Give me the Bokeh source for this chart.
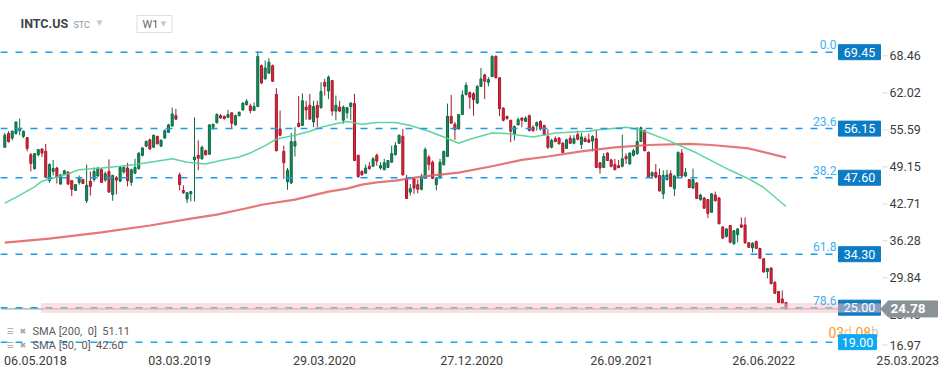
from bokeh.plotting import figure
from bokeh.models import (Range1d, FixedTicker, Label, BoxAnnotation, ColumnDataSource)
from bokeh.core.properties import value
from bokeh.embed import file_html
from bokeh.resources import INLINE

# ---------------- data ----------------
opens = [52.9, 55.3, 54.5, 55.3, 55.8, 54.8, 54.6, 51.6, 49.2, 51.6, 52.6, 52.2, 47.1, 48.7, 49.3, 46.5, 48.2, 48.6, 47.1, 45.4,
         46.8, 47.3, 43.6, 47.0, 47.3, 47.9, 49.0, 47.2, 48.7, 44.7, 47.6, 47.0, 48.6, 49.3, 46.8, 48.4, 49.2, 51.5, 53.1, 54.2,
         52.9, 54.8, 53.1, 54.5, 55.5, 56.6, 58.4, 48.1, 45.4, 43.9, 44.8, 50.7, 51.5, 50.9, 52.3, 51.7, 56.4, 57.2, 58.4, 58.3,
         58.1, 58.9, 56.8, 58.4, 59.4, 60.3, 60.1, 59.3, 60.0, 67.1, 64.8, 65.8, 67.1, 62.1, 56.1, 52.2, 46.9, 46.7, 53.1, 57.1,
         56.7, 59.9, 60.2, 57.3, 60.2, 59.8, 64.2, 62.7, 64.5, 59.2, 59.9, 57.6, 58.9, 60.0, 60.5, 51.5, 48.7, 48.4, 49.6, 49.6,
         51.5, 49.3, 49.0, 49.4, 50.3, 51.6, 53.6, 54.8, 47.5, 45.1, 47.5, 46.4, 45.6, 47.5, 51.2, 50.3, 46.4, 47.6, 49.9, 51.3,
         58.3, 56.9, 56.1, 58.6, 62.1, 62.4, 62.2, 60.6, 63.5, 65.5, 64.2, 65.2, 68.7, 65.0, 59.7, 58.3, 57.6, 55.2, 56.8, 58.0,
         57.4, 58.4, 56.4, 56.6, 57.4, 56.7, 54.8, 52.9, 54.4, 54.5, 53.6, 52.7, 54.5, 53.6, 55.1, 53.4, 54.4, 54.2, 54.0, 54.4,
         50.2, 49.4, 51.9, 50.7, 49.9, 49.7, 49.6, 51.3, 50.0, 51.5, 51.8, 53.9, 55.8, 52.0, 47.9, 48.5, 48.0, 44.8, 47.3, 48.3,
         45.7, 47.9, 51.9, 47.9, 47.3, 45.8, 46.7, 43.8, 44.1, 43.8, 41.6, 44.6, 44.1, 39.0, 37.4, 39.3, 36.1, 37.7, 39.4, 39.4,
         36.3, 35.4, 36.5, 35.3, 33.5, 31.3, 31.9, 29.4, 27.8, 26.5, 25.9]
highs = [55.4, 55.7, 55.8, 57.4, 57.9, 55.8, 54.6, 51.9, 51.9, 52.6, 52.7, 53.5, 50.1, 50.7, 49.5, 48.3, 49.0, 48.7, 47.2, 46.5,
         48.0, 47.4, 49.9, 48.7, 49.4, 49.4, 49.3, 48.7, 50.8, 48.1, 47.9, 49.5, 49.6, 50.2, 49.2, 50.9, 52.0, 52.9, 54.1, 54.4,
         55.1, 54.9, 54.3, 56.0, 57.0, 59.8, 59.6, 48.5, 46.3, 45.1, 45.3, 58.1, 54.1, 53.2, 52.5, 56.9, 57.0, 58.8, 58.7, 58.4,
         59.4, 59.0, 58.6, 59.1, 60.7, 61.3, 60.5, 60.7, 69.6, 67.3, 68.0, 68.4, 67.3, 63.2, 59.3, 53.2, 49.3, 55.4, 56.4, 61.8,
         62.3, 61.0, 62.2, 61.0, 61.0, 64.2, 64.8, 65.4, 64.6, 61.9, 61.0, 60.2, 59.9, 60.7, 62.2, 51.6, 48.9, 49.9, 50.3, 51.2,
         51.8, 50.3, 50.9, 50.7, 53.2, 53.8, 55.1, 56.1, 48.1, 46.5, 47.7, 47.3, 48.3, 52.9, 51.6, 50.6, 47.7, 50.9, 52.3, 60.5,
         62.0, 57.3, 58.7, 62.8, 64.2, 62.6, 62.5, 63.7, 66.7, 65.7, 65.1, 68.9, 68.9, 65.1, 59.9, 58.3, 57.7, 56.7, 58.1, 58.1,
         58.3, 58.6, 56.7, 57.4, 57.6, 56.8, 56.0, 54.4, 54.8, 54.7, 53.8, 54.4, 55.0, 55.0, 55.8, 55.4, 54.8, 55.3, 55.0, 55.9,
         50.3, 51.9, 52.0, 50.9, 50.9, 50.7, 55.1, 51.8, 52.0, 52.6, 56.4, 56.5, 56.0, 52.2, 48.7, 50.0, 49.2, 48.9, 49.0, 48.9,
         48.1, 52.2, 52.6, 49.3, 47.4, 49.2, 46.8, 44.8, 44.2, 43.9, 44.9, 45.2, 44.2, 39.2, 38.8, 39.4, 38.5, 38.8, 40.7, 40.7,
         36.4, 36.4, 36.7, 35.4, 33.6, 31.9, 32.0, 29.6, 27.9, 28.0, 26.0]
lows = [52.9, 53.7, 54.1, 55.1, 55.0, 54.5, 52.2, 48.7, 49.0, 51.3, 51.2, 47.7, 46.7, 48.0, 46.6, 46.4, 48.1, 46.4, 44.4, 45.3,
        46.4, 46.6, 43.2, 44.5, 46.9, 47.8, 46.8, 46.9, 45.1, 43.6, 44.7, 46.9, 48.3, 46.1, 46.2, 48.3, 49.0, 51.3, 52.9, 52.5,
        52.8, 53.4, 53.0, 54.4, 55.4, 56.5, 57.7, 45.4, 44.8, 43.2, 43.5, 43.5, 48.9, 50.7, 51.5, 51.6, 55.9, 57.0, 57.9, 57.7,
        58.0, 56.1, 56.7, 58.3, 59.3, 60.2, 58.8, 59.2, 59.9, 63.9, 64.7, 65.7, 64.3, 52.2, 54.8, 47.4, 45.5, 46.5, 51.3, 56.4,
        56.6, 57.7, 57.7, 56.4, 56.4, 59.6, 61.9, 61.3, 58.4, 57.6, 59.0, 57.0, 57.9, 57.6, 50.5, 47.6, 48.0, 48.3, 49.0, 49.5,
        49.7, 49.0, 48.9, 49.3, 50.2, 51.5, 53.5, 48.0, 43.9, 44.5, 44.8, 44.9, 45.4, 47.4, 48.9, 47.4, 45.4, 47.4, 49.7, 51.2,
        57.0, 54.2, 56.0, 58.5, 61.9, 59.6, 58.4, 60.4, 63.4, 61.3, 63.5, 65.1, 64.9, 58.3, 57.4, 57.7, 53.8, 54.1, 56.7, 56.4,
        57.3, 55.7, 55.6, 55.8, 55.8, 54.9, 52.6, 52.7, 53.8, 53.4, 51.9, 52.6, 53.5, 53.4, 54.1, 52.6, 53.8, 53.7, 52.2, 49.3,
        48.3, 49.3, 50.5, 49.4, 48.9, 49.3, 49.4, 50.0, 49.9, 51.3, 51.6, 53.8, 52.2, 47.6, 47.4, 47.5, 45.2, 43.9, 47.1, 46.1,
        44.4, 47.7, 47.7, 47.7, 45.8, 45.7, 43.9, 43.6, 42.2, 40.6, 41.5, 43.5, 39.5, 37.0, 37.2, 36.2, 36.0, 36.4, 38.9, 36.1,
        35.4, 34.6, 35.2, 33.5, 31.1, 30.1, 29.0, 27.4, 25.8, 25.8, 24.7]
closes = [55.0, 53.9, 55.7, 57.3, 56.2, 55.7, 52.7, 50.1, 51.8, 52.5, 51.9, 47.7, 49.9, 49.2, 47.7, 48.1, 48.8, 46.5, 45.6, 46.4,
          47.6, 46.6, 46.3, 46.1, 48.7, 49.3, 46.8, 48.3, 45.1, 48.0, 47.2, 49.4, 49.4, 47.1, 49.0, 49.4, 51.9, 52.8, 53.9, 52.6,
          55.0, 53.5, 54.1, 55.8, 56.8, 58.7, 57.8, 46.4, 45.0, 45.0, 45.2, 51.2, 51.0, 52.9, 51.6, 56.8, 56.9, 58.6, 58.0, 57.9,
          58.6, 57.1, 58.4, 59.0, 60.6, 60.9, 59.3, 60.0, 68.7, 64.1, 66.7, 67.7, 64.4, 52.3, 55.0, 50.2, 48.9, 53.9, 53.9, 56.5,
          61.0, 59.4, 57.8, 60.0, 58.1, 62.6, 63.5, 65.1, 59.2, 60.2, 59.2, 59.9, 59.8, 60.6, 50.6, 47.8, 48.1, 49.3, 49.2, 50.9,
          50.5, 49.7, 50.2, 50.6, 51.8, 53.2, 55.0, 48.1, 44.0, 45.7, 45.8, 45.6, 47.8, 52.5, 49.9, 47.5, 47.5, 50.3, 52.2, 58.3,
          57.1, 56.0, 58.6, 62.0, 63.7, 61.6, 61.2, 63.5, 64.8, 64.4, 64.7, 68.7, 65.0, 59.6, 57.6, 57.9, 55.7, 56.5, 57.7, 57.6,
          58.0, 55.8, 55.8, 57.2, 56.1, 55.1, 52.9, 54.1, 53.9, 53.5, 52.0, 54.2, 53.6, 54.4, 54.3, 54.7, 53.9, 53.8, 54.8, 49.4,
          49.3, 51.3, 50.6, 49.6, 49.0, 49.35, 50.9, 50.9, 51.9, 52.3, 53.9, 56.3, 52.3, 47.7, 48.5, 47.7, 45.3, 48.0, 48.1, 46.1,
          47.9, 52.0, 47.9, 48.5, 45.9, 47.3, 44.0, 44.6, 42.3, 41.4, 44.8, 43.6, 39.6, 37.1, 38.7, 36.4, 38.4, 38.7, 39.0, 36.3,
          35.5, 36.2, 35.3, 33.6, 31.2, 31.8, 29.2, 27.5, 25.9, 25.8, 24.78]

sma200_idx = [0, 12, 26, 39, 50, 57, 65, 69, 78, 87, 92, 96, 100, 105, 112, 122, 131, 139, 146, 155, 164, 173, 184, 190, 200, 210]
sma200_val = [36.3, 37.0, 38.1, 39.3, 40.5, 41.2, 42.3, 42.9, 43.8, 45.2, 45.7, 46.4, 46.8, 47.1, 47.8, 48.5, 49.6, 50.7, 51.3,
              52.2, 52.9, 53.3, 53.5, 53.3, 52.7, 51.11]
sma50_idx = [0, 3, 8, 10, 13, 17, 20, 26, 31, 35, 40, 45, 49, 54, 58, 63, 66, 70, 73, 75, 78, 82, 85, 89, 92, 96, 100, 105,
             109, 114, 118, 122, 125, 131, 135, 142, 148, 157, 159, 167, 171, 178, 186, 195, 200, 204, 210]
sma50_val = [43.2, 44.2, 46.0, 47.0, 47.5, 48.3, 49.0, 49.3, 49.6, 49.9, 50.4, 50.9, 50.3, 50.0, 50.6, 51.2, 51.9, 53.2, 54.3,
             54.6, 55.0, 55.7, 56.4, 57.0, 57.4, 56.9, 57.2, 57.2, 56.7, 55.7, 54.7, 53.6, 54.3, 55.4, 55.3, 54.7, 55.4, 55.7,
             55.9, 56.4, 55.9, 54.2, 51.9, 48.9, 47.4, 45.9, 42.6]

fib_levels = [69.45, 56.15, 47.60, 34.30, 25.00]
fib_ratios = ["0.0", "23.6", "38.2", "61.8", "78.6"]
extra_level = 19.00
last_price = 24.78
zone_low, zone_high = 24.2, 25.7

price_ticks = [68.46, 62.02, 55.59, 49.15, 42.71, 36.28, 29.84, 23.40, 16.97]
date_tick_idx = [8.25, 47.0, 85.9, 125.5, 165.8, 204.0, 242.7]
date_labels = ["06.05.2018", "03.03.2019", "29.03.2020", "27.12.2020", "26.09.2021", "26.06.2022", "25.03.2023"]

sma_legend = ["SMA [200,\u00a0 0]\u00a0 51.11", "SMA [50,\u00a0 0]\u00a0 42.60"]
countdown_parts = ["03", "d", "08", "h"]

# ---------------- layout helpers ----------------
W, H = 949, 378
FRAME_H = 352
PLOT_R = 880                    # right edge of the price area (px)
X0PX, XPX = 4.3, 3.72          # first candle pixel, pixels per candle
Y_TOP, Y_BOT = 78.44, 17.20


def xi(px):
    return (px - X0PX) / XPX


def yp(py):
    return Y_TOP - py * (Y_TOP - Y_BOT) / FRAME_H


PX_PRICE = (Y_TOP - Y_BOT) / FRAME_H
FONT = "Roboto"
TXT = "#3c3c3c"

p = figure(width=W, height=H, output_backend="svg", toolbar_location=None,
           x_range=Range1d(xi(0), xi(W)), y_range=Range1d(Y_BOT, Y_TOP),
           y_axis_location=None, min_border_left=0, min_border_top=0,
           min_border_right=0, min_border_bottom=H - FRAME_H)
p.outline_line_color = None
p.background_fill_color = "white"
p.border_fill_color = "white"
p.grid.visible = False

xax = p.xaxis[0]
xax.ticker = FixedTicker(ticks=date_tick_idx)
xax.major_label_overrides = {t: l for t, l in zip(date_tick_idx, date_labels)}
xax.axis_line_color = None
xax.major_tick_in = 0
xax.major_tick_out = 0
xax.minor_tick_line_color = None
xax.major_label_standoff = 3
xax.major_label_text_font = FONT
xax.major_label_text_font_size = "12.5px"
xax.major_label_text_color = TXT

# candles
n = len(opens)
idx = list(range(n))
up = [c >= o for o, c in zip(opens, closes)]
src = ColumnDataSource(dict(
    x=idx, h=highs, l=lows,
    top=[max(o, c) for o, c in zip(opens, closes)],
    bot=[min(o, c) for o, c in zip(opens, closes)],
    fill=["#178a59" if u else "#d8283d" for u in up],
    edge=["#0e6b44" if u else "#a9172a" for u in up],
))
p.segment(x0="x", y0="l", x1="x", y1="h", line_color="edge", line_width=1, source=src)
p.vbar(x="x", width=0.55, top="top", bottom="bot", fill_color="fill", line_color="edge",
       line_width=1, source=src)

# moving averages
p.line(sma200_idx, sma200_val, line_color="#e25f5f", line_width=2.2, line_alpha=0.85)
p.line(sma50_idx, sma50_val, line_color="#4dd095", line_width=1.5, line_alpha=0.9)

# zone + last price line
p.add_layout(BoxAnnotation(left=xi(41), right=xi(PLOT_R), bottom=zone_low, top=zone_high,
                           fill_color="#fbc4c4", fill_alpha=0.5,
                           line_color="#f3a0a0", line_width=1))
p.segment(x0=[xi(0)], x1=[xi(PLOT_R)], y0=[last_price], y1=[last_price],
          line_color="#8c9396", line_width=1)

# countdown (drawn below the 19.00 tag, which partly covers it)
CY = yp(331.5)
p.text(x=[xi(828), xi(843.5), xi(855), xi(870.5)], y=[CY] * 4, text=countdown_parts,
       text_color=["#ff9a1f", "#f7c98f", "#ff9a1f", "#d9c7b3"],
       text_font=value(FONT), text_font_size=value("14px"),
       text_align="left", text_baseline="middle")

DASH_COL = "#1a9de6"
BOX_H = 7.5 * PX_PRICE
p.segment(x0=[xi(0)] * len(fib_levels), x1=[xi(838)] * len(fib_levels), y0=fib_levels, y1=fib_levels,
          line_color=DASH_COL, line_width=1.5, line_dash="7 8")
p.quad(left=xi(838), right=xi(PLOT_R), bottom=[v - BOX_H for v in fib_levels],
       top=[v + BOX_H for v in fib_levels], fill_color="#0b7cc4", line_color="#0b7cc4")
for lvl, r in zip(fib_levels, fib_ratios):
    p.add_layout(Label(x=xi(836), y=lvl, y_offset=3, text=r, text_align="right",
                       text_baseline="bottom", text_font=FONT, text_font_size="12px",
                       text_color="#3fb0f2"))
    p.add_layout(Label(x=xi(859), y=lvl, text=f"{lvl:.2f}", text_align="center",
                       text_baseline="middle", text_font=FONT, text_font_size="12.5px",
                       text_color="white"))

p.segment(x0=[xi(0)], x1=[xi(838)], y0=[extra_level], y1=[extra_level],
          line_color="#17a8f0", line_width=1.5, line_dash="7 8")
p.quad(left=xi(838), right=xi(876), bottom=extra_level - BOX_H, top=extra_level + BOX_H,
       fill_color="#0ea8f3", line_color="#0ea8f3")
p.add_layout(Label(x=xi(857), y=extra_level, text=f"{extra_level:.2f}", text_align="center",
                   text_baseline="middle", text_font=FONT, text_font_size="12.5px",
                   text_color="white"))

# price scale (right side)
tick_y = [t if t != 16.97 else yp(346.5) for t in price_ticks]
p.segment(x0=[xi(882)] * len(price_ticks), x1=[xi(887)] * len(price_ticks),
          y0=[v + 2 * PX_PRICE for v in tick_y], y1=[v + 2 * PX_PRICE for v in tick_y],
          line_color="#d8d8d8", line_width=1)
for t, ty in zip(price_ticks, tick_y):
    p.add_layout(Label(x=xi(889), y=ty, y_offset=2, text=f"{t:.2f}", text_align="left",
                       text_baseline="middle", text_font=FONT, text_font_size="12.5px",
                       text_color=TXT))

# last price tag on the scale
TAG_H = 8 * PX_PRICE
p.quad(left=xi(887.5), right=xi(937), bottom=last_price - TAG_H, top=last_price + TAG_H,
       fill_color="#8a9296", line_color="#8a9296", level="overlay")
p.patch([xi(880), xi(888), xi(888)], [last_price, last_price + TAG_H, last_price - TAG_H],
        fill_color="#8a9296", line_color="#8a9296", level="overlay")
p.add_layout(Label(x=xi(890), y=last_price, text=f"{last_price:.2f}", text_align="left",
                   text_baseline="middle", text_font=FONT, text_font_size="13.5px",
                   text_font_style="bold", text_color="white", level="overlay"))

# header
p.add_layout(Label(x=xi(20), y=yp(23), text="INTC.US", text_align="left", text_baseline="middle",
                   text_font=FONT, text_font_size="12.5px", text_font_style="bold",
                   text_color="#3d4449"))
p.add_layout(Label(x=xi(73), y=yp(24), text="STC", text_align="left", text_baseline="middle",
                   text_font=FONT, text_font_size="9px", text_color="#8b9aa5"))
p.add_layout(Label(x=xi(99), y=yp(22), text="▼", text_align="center", text_baseline="middle",
                   text_font="DejaVu Sans", text_font_size="7px", text_color="#c5c5c5"))
p.quad(left=xi(136.5), right=xi(171.5), top=yp(15), bottom=yp(32), fill_color="white",
       line_color="#dedede")
p.add_layout(Label(x=xi(142), y=yp(24), text="W1", text_align="left", text_baseline="middle",
                   text_font=FONT, text_font_size="11px", text_color="#5f6468"))
p.add_layout(Label(x=xi(163), y=yp(23), text="▼", text_align="center", text_baseline="middle",
                   text_font="DejaVu Sans", text_font_size="7px", text_color="#c5c5c5"))

# SMA legend
for txt, py in zip(sma_legend, [331, 345]):
    p.add_layout(Label(x=xi(6), y=yp(py), text="☰", text_align="left", text_baseline="middle",
                       text_font="DejaVu Sans", text_font_size="8px", text_color="#a7a7a7"))
    p.add_layout(Label(x=xi(19), y=yp(py), text="✖", text_align="left", text_baseline="middle",
                       text_font="DejaVu Sans", text_font_size="8px", text_color="#a7a7a7"))
    p.add_layout(Label(x=xi(32), y=yp(py), text=txt, text_align="left", text_baseline="middle",
                       text_font=FONT, text_font_size="11px", text_color="#5a5a5a"))

open("out.html", "w").write(file_html(p, INLINE))
